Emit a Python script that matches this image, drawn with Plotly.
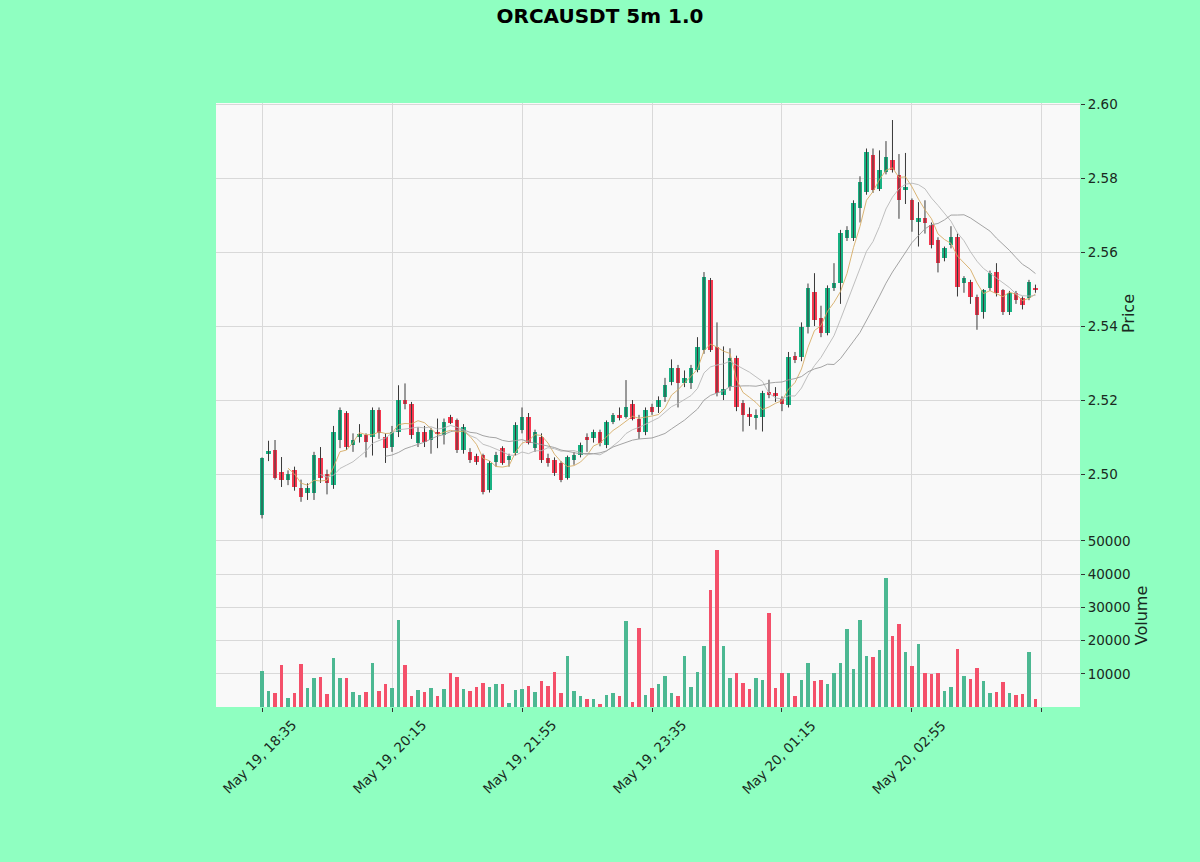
import pandas as pd
import plotly.graph_objects as go
from plotly.subplots import make_subplots

# --- datos (velas de 5m) ---
start = "2024-05-19 18:35"

opens = [2.4888, 2.5055, 2.5065, 2.5005, 2.4984, 2.5010, 2.4962, 2.4949, 2.4949, 2.5043,
         2.5000, 2.4970, 2.5092, 2.5165, 2.5078, 2.5100, 2.5105, 2.5100, 2.5173, 2.5100,
         2.5073, 2.5113, 2.5200, 2.5190, 2.5085, 2.5113, 2.5092, 2.5114, 2.5105, 2.5154,
         2.5146, 2.5065, 2.5059, 2.5050, 2.5051, 2.4957, 2.5032, 2.5070, 2.5038, 2.5057,
         2.5119, 2.5154, 2.5070, 2.5100, 2.5043, 2.5038, 2.5030, 2.4990, 2.5038, 2.5051,
         2.5100, 2.5097, 2.5113, 2.5078, 2.5140, 2.5160, 2.5154, 2.5190, 2.5150, 2.5113,
         2.5181, 2.5181, 2.5208, 2.5249, 2.5286, 2.5246, 2.5246, 2.5281, 2.5335, 2.5524,
         2.5343, 2.5215, 2.5235, 2.5313, 2.5192, 2.5162, 2.5151, 2.5154, 2.5222, 2.5220,
         2.5203, 2.5186, 2.5320, 2.5316, 2.5397, 2.5492, 2.5422, 2.5381, 2.5503, 2.5516,
         2.5638, 2.5638, 2.5719, 2.5762, 2.5862, 2.5770, 2.5816, 2.5849, 2.5808, 2.5768,
         2.5740, 2.5681, 2.5692, 2.5673, 2.5632, 2.5584, 2.5619, 2.5640, 2.5516, 2.5519,
         2.5478, 2.5438, 2.5503, 2.5546, 2.5497, 2.5438, 2.5490, 2.5476, 2.5476, 2.5503]

highs = [2.5045, 2.5090, 2.5092, 2.5046, 2.5010, 2.5020, 2.4985, 2.4975, 2.5060, 2.5073,
         2.5012, 2.5130, 2.5180, 2.5170, 2.5110, 2.5135, 2.5110, 2.5180, 2.5180, 2.5110,
         2.5130, 2.5240, 2.5245, 2.5195, 2.5127, 2.5130, 2.5125, 2.5150, 2.5150, 2.5160,
         2.5150, 2.5135, 2.5070, 2.5055, 2.5055, 2.5035, 2.5060, 2.5075, 2.5055, 2.5140,
         2.5180, 2.5165, 2.5120, 2.5110, 2.5055, 2.5045, 2.5035, 2.5050, 2.5060, 2.5085,
         2.5110, 2.5120, 2.5120, 2.5145, 2.5165, 2.5180, 2.5254, 2.5200, 2.5160, 2.5180,
         2.5190, 2.5210, 2.5260, 2.5310, 2.5295, 2.5280, 2.5295, 2.5370, 2.5546, 2.5530,
         2.5410, 2.5345, 2.5340, 2.5320, 2.5200, 2.5180, 2.5175, 2.5225, 2.5255, 2.5235,
         2.5210, 2.5330, 2.5330, 2.5410, 2.5515, 2.5543, 2.5455, 2.5510, 2.5570, 2.5660,
         2.5670, 2.5740, 2.5805, 2.5880, 2.5880, 2.5875, 2.5900, 2.5957, 2.5865, 2.5868,
         2.5745, 2.5735, 2.5740, 2.5680, 2.5640, 2.5615, 2.5670, 2.5650, 2.5535, 2.5525,
         2.5485, 2.5500, 2.5550, 2.5570, 2.5500, 2.5495, 2.5495, 2.5480, 2.5525, 2.5512]

lows = [2.4880, 2.5035, 2.4985, 2.4965, 2.4970, 2.4955, 2.4925, 2.4930, 2.4930, 2.4976,
        2.4945, 2.4960, 2.5070, 2.5065, 2.5060, 2.5085, 2.5045, 2.5050, 2.5095, 2.5030,
        2.5060, 2.5100, 2.5175, 2.5095, 2.5073, 2.5073, 2.5055, 2.5070, 2.5080, 2.5135,
        2.5057, 2.5055, 2.5030, 2.5025, 2.4945, 2.4950, 2.5020, 2.5025, 2.5020, 2.5050,
        2.5110, 2.5080, 2.5060, 2.5030, 2.5020, 2.4995, 2.4978, 2.4985, 2.5025, 2.5045,
        2.5060, 2.5085, 2.5075, 2.5070, 2.5135, 2.5145, 2.5150, 2.5145, 2.5095, 2.5105,
        2.5160, 2.5165, 2.5195, 2.5240, 2.5180, 2.5235, 2.5230, 2.5275, 2.5325, 2.5330,
        2.5210, 2.5200, 2.5225, 2.5170, 2.5115, 2.5130, 2.5120, 2.5115, 2.5205, 2.5195,
        2.5170, 2.5180, 2.5300, 2.5305, 2.5380, 2.5400, 2.5370, 2.5375, 2.5495, 2.5460,
        2.5630, 2.5630, 2.5680, 2.5755, 2.5760, 2.5765, 2.5810, 2.5815, 2.5690, 2.5730,
        2.5655, 2.5615, 2.5650, 2.5610, 2.5545, 2.5575, 2.5610, 2.5480, 2.5490, 2.5460,
        2.5390, 2.5420, 2.5495, 2.5480, 2.5430, 2.5430, 2.5460, 2.5445, 2.5470, 2.5490]

closes = [2.5043, 2.5062, 2.4990, 2.4984, 2.5000, 2.4965, 2.4938, 2.4962, 2.5051, 2.4990,
          2.4975, 2.5113, 2.5173, 2.5073, 2.5092, 2.5108, 2.5086, 2.5173, 2.5111, 2.5070,
          2.5113, 2.5200, 2.5190, 2.5105, 2.5113, 2.5086, 2.5119, 2.5108, 2.5140, 2.5138,
          2.5065, 2.5128, 2.5038, 2.5032, 2.4951, 2.5030, 2.5051, 2.5030, 2.5050, 2.5132,
          2.5154, 2.5084, 2.5113, 2.5038, 2.5030, 2.5003, 2.4984, 2.5046, 2.5051, 2.5078,
          2.5092, 2.5113, 2.5084, 2.5140, 2.5160, 2.5151, 2.5180, 2.5150, 2.5113, 2.5173,
          2.5168, 2.5200, 2.5240, 2.5286, 2.5246, 2.5260, 2.5286, 2.5343, 2.5532, 2.5335,
          2.5220, 2.5230, 2.5313, 2.5180, 2.5160, 2.5154, 2.5160, 2.5219, 2.5213, 2.5210,
          2.5189, 2.5316, 2.5308, 2.5397, 2.5503, 2.5416, 2.5381, 2.5503, 2.5516, 2.5651,
          2.5659, 2.5732, 2.5789, 2.5870, 2.5768, 2.5822, 2.5857, 2.5822, 2.5740, 2.5776,
          2.5686, 2.5692, 2.5678, 2.5619, 2.5570, 2.5611, 2.5640, 2.5505, 2.5530, 2.5478,
          2.5430, 2.5497, 2.5543, 2.5489, 2.5438, 2.5490, 2.5470, 2.5457, 2.5519, 2.5497]

volumes = [10700, 4850, 4150, 12700, 2600, 4150, 13000, 5850, 8700, 9000,
           3850, 14750, 8700, 8700, 4650, 3650, 4650, 13200, 4850, 6950,
           5750, 26150, 12700, 3450, 5150, 4550, 5750, 3450, 5550, 10200,
           9000, 5550, 4950, 6150, 7350, 6150, 6950, 6950, 1100, 5150,
           5550, 6350, 4550, 7850, 6350, 10400, 4350, 15250, 4850, 3450,
           2400, 2400, 900, 3650, 4150, 3450, 26050, 1400, 23850, 3650,
           5650, 6850, 9200, 4150, 3450, 15250, 6150, 10600, 18300, 35250,
           47350, 18500, 8800, 10200, 7350, 5350, 8700, 8200, 28200, 5650,
           10200, 10200, 3450, 8200, 13200, 7800, 8100, 6950, 10200, 13200,
           23350, 11400, 26350, 15250, 14950, 17050, 38800, 21300, 25050, 16450,
           12400, 19000, 10200, 10000, 10200, 4950, 6150, 17600, 9200, 8500,
           11700, 7700, 4150, 4450, 7450, 4150, 3750, 3850, 16650, 2350]

mav_periods = [5, 10, 20]
tick_step = 20

# --- preparar ---
n = len(closes)
idx = list(range(n))
fechas = pd.date_range(start, periods=n + 1, freq="5min")
tickvals = list(range(0, n + 1, tick_step))
ticktext = [fechas[t].strftime("%b %d, %H:%M") if t < n else "" for t in tickvals]

UP, DOWN = "#19b283", "#f5384f"
VUP, VDOWN = "#4cb892", "#f4506a"
sube = [c >= o for o, c in zip(opens, closes)]

fig = make_subplots(rows=2, cols=1, shared_xaxes=True, vertical_spacing=0,
                    row_heights=[0.697, 0.303])

# mechas
wx, wy = [], []
for i in idx:
    wx += [i, i, None]
    wy += [lows[i], highs[i], None]
fig.add_trace(go.Scatter(x=wx, y=wy, mode="lines", line=dict(color="#3a3a3a", width=1),
                         hoverinfo="skip", showlegend=False), row=1, col=1)

# medias moviles
s = pd.Series(closes)
mav_colors = ["#d6ad66", "#b8b8b8", "#9a9a9a"]
for p, col in zip(mav_periods, mav_colors):
    fig.add_trace(go.Scatter(x=idx, y=s.rolling(p).mean(), mode="lines",
                             line=dict(color=col, width=0.9), showlegend=False,
                             hoverinfo="skip"), row=1, col=1)

# cuerpos
base = [min(o, c) for o, c in zip(opens, closes)]
alto = [max(abs(c - o), 0.00015) for o, c in zip(opens, closes)]
fig.add_trace(go.Bar(x=idx, y=alto, base=base, width=0.7,
                     marker=dict(color=[UP if u else DOWN for u in sube], line=dict(width=0)),
                     showlegend=False), row=1, col=1)

# volumen
fig.add_trace(go.Bar(x=idx, y=volumes, width=0.55,
                     marker=dict(color=[VUP if u else VDOWN for u in sube], line=dict(width=0)),
                     showlegend=False), row=2, col=1)

font = "DejaVu Sans"
txt = "#1a2a22"
fig.update_layout(
    width=1200, height=862,
    paper_bgcolor="#8fffc1", plot_bgcolor="#f9f9f9",
    margin=dict(l=216, r=120, t=103, b=155),
    font=dict(family=font, size=13.5, color=txt),
    title=dict(text="<b>ORCAUSDT 5m 1.0</b>", x=0.5, xanchor="center", y=0.981,
               yanchor="middle", font=dict(size=20, color="#000000")),
    bargap=0, showlegend=False,
)

# etiquetas de fecha giradas y centradas en la marca (como matplotlib)
for t, lab in zip(tickvals, ticktext):
    if lab:
        fig.add_annotation(x=t, xref="x2", y=0, yref="y2 domain", text=lab,
                           textangle=-45, xanchor="center", yanchor="top",
                           xshift=-3, yshift=-7, showarrow=False,
                           font=dict(size=13.5, color=txt))

xcommon = dict(range=[-7.08, 125.85], tickmode="array", tickvals=tickvals,
               showticklabels=False, showgrid=True, gridcolor="#d9d9d9", gridwidth=1,
               zeroline=False, ticks="outside", ticklen=4, tickcolor="#333333",
               showline=False)
fig.update_xaxes(**xcommon, row=1, col=1)
fig.update_xaxes(**xcommon, row=2, col=1)

ycommon = dict(side="right", showgrid=True, gridcolor="#d9d9d9", gridwidth=1,
               zeroline=False, ticks="outside", ticklen=4, tickcolor="#333333",
               showline=False)
fig.update_yaxes(**ycommon, range=[2.4865, 2.6003], dtick=0.02, tickformat=".2f",
                 title=dict(text="Price", standoff=6), row=1, col=1)
fig.update_yaxes(**ycommon, range=[0, 55110], tickvals=[10000, 20000, 30000, 40000, 50000],
                 tickformat="d", title=dict(text="Volume", standoff=6), row=2, col=1)

fig.write_html("out.html", config={"displayModeBar": False},
               post_script="document.body.style.margin='0';"
                           "document.body.style.background='#8fffc1';")
